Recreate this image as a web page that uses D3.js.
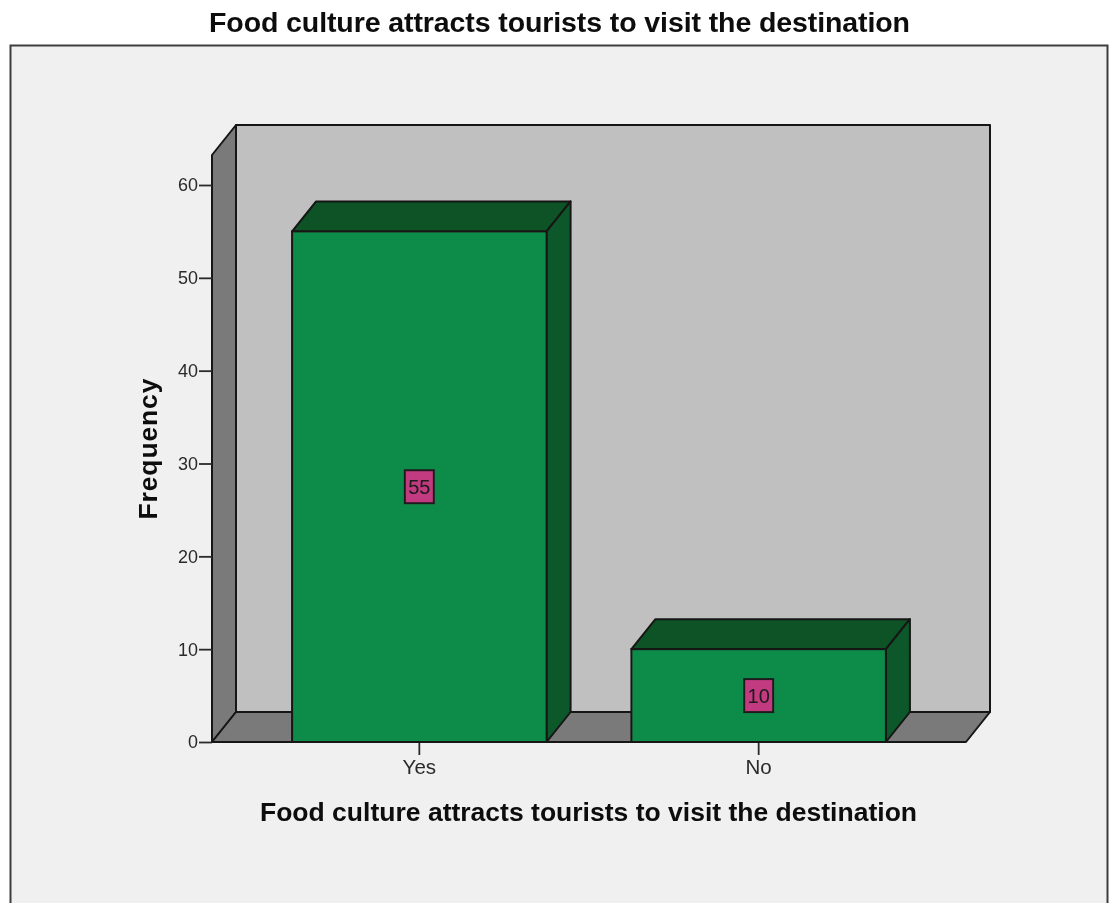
<!DOCTYPE html>
<html><head><meta charset="utf-8">
<script src="https://cdn.jsdelivr.net/npm/d3@7"></script>
<style>
html,body{margin:0;padding:0;background:#fff;overflow:hidden}
svg{display:block}
text{font-family:"Liberation Sans",Arial,sans-serif}
</style></head><body>
<script>
const categories = ["Yes","No"];
const frequencies = [55,10];
const yTicks = [0,10,20,30,40,50,60];
const chartTitle = "Food culture attracts tourists to visit the destination";
const xTitle = "Food culture attracts tourists to visit the destination";
const yTitle = "Frequency";

const W=1110,H=903;
const depth={x:24,y:-30};
const y=d3.scaleLinear().domain([0,60]).range([742,185]);
const x=d3.scaleBand().domain(categories).range([212,966]).paddingInner(.25).paddingOuter(.236);
const wallTop=155, ink="#161616";

const svg=d3.select("body").append("svg").attr("width",W).attr("height",H);
const defs=svg.append("defs");
defs.append("filter").attr("id","soft").attr("x","-2%").attr("y","-2%").attr("width","104%").attr("height","104%")
  .append("feGaussianBlur").attr("stdDeviation",.5);
svg.append("rect").attr("width",W).attr("height",H).attr("fill","#fff");
const g=svg.append("g").attr("filter","url(#soft)");

g.append("rect").attr("x",10.5).attr("y",45.5).attr("width",1097).attr("height",H)
  .attr("fill","#f0f0f0").attr("stroke","#3c3c3c").attr("stroke-width",2);

const L=x.range()[0],R=x.range()[1],B=y(0);
const poly=(pts,fill)=>g.append("polygon").attr("points",pts.map(p=>p.join(",")).join(" "))
  .attr("fill",fill).attr("stroke",ink).attr("stroke-width",2).attr("stroke-linejoin","round");
// back wall, side wall, floor
poly([[L+depth.x,wallTop+depth.y],[R+depth.x,wallTop+depth.y],[R+depth.x,B+depth.y],[L+depth.x,B+depth.y]],"#c0c0c0");
poly([[L,wallTop],[L+depth.x,wallTop+depth.y],[L+depth.x,B+depth.y],[L,B]],"#7a7a7a");
poly([[L,B],[L+depth.x,B+depth.y],[R+depth.x,B+depth.y],[R,B]],"#7a7a7a");

// axes
const yAxis=d3.axisLeft(y).tickValues(yTicks).tickSize(13).tickPadding(1).tickFormat(d3.format("d"));
const ya=g.append("g").attr("transform",`translate(${L},0)`).call(yAxis);
const xAxis=d3.axisBottom(x).tickSize(13).tickPadding(3);
const xa=g.append("g").attr("transform",`translate(0,${B})`).call(xAxis);
[ya,xa].forEach(a=>{
  a.select(".domain").remove();
  a.selectAll("line").attr("stroke","#2a2a2a").attr("stroke-width",1.8);
  a.selectAll("text").attr("font-size",18.5).attr("fill","#2a2a2a").style("font-family",'"Liberation Sans",Arial,sans-serif');
});
ya.selectAll("text").attr("textLength",20).attr("lengthAdjust","spacingAndGlyphs");
ya.selectAll(".tick").filter(d=>d===0).select("text").attr("textLength",10);
xa.selectAll("text").attr("dy","0.8em").attr("font-size",20.5);
g.append("line").attr("x1",L).attr("x2",R).attr("y1",B).attr("y2",B).attr("stroke",ink).attr("stroke-width",2);

// bars
categories.forEach((c,i)=>{
  const v=frequencies[i],x0=x(c),x1=x0+x.bandwidth(),t=y(v);
  poly([[x0,t],[x0+depth.x,t+depth.y],[x1+depth.x,t+depth.y],[x1,t]],"#085226");
  poly([[x1,t],[x1+depth.x,t+depth.y],[x1+depth.x,B+depth.y],[x1,B]],"#08582a");
  g.append("rect").attr("x",x0).attr("y",t).attr("width",x.bandwidth()).attr("height",B-t)
    .attr("fill","#108c4a").attr("stroke",ink).attr("stroke-width",2);
  const cx=x0+x.bandwidth()/2, cy=y(v/2);
  g.append("rect").attr("x",cx-14.5).attr("y",cy-16.5).attr("width",29).attr("height",33)
    .attr("fill","#c23a80").attr("stroke","#1f1f1f").attr("stroke-width",2);
  g.append("text").attr("x",cx).attr("y",cy+7).attr("text-anchor","middle")
    .attr("font-size",20).attr("fill","#1a1a1a").text(v);
});

// titles
g.append("text").attr("x",559.5).attr("y",32).attr("text-anchor","middle").attr("font-weight","bold")
  .attr("font-size",28.5).attr("fill","#0c0c0c").attr("textLength",701).attr("lengthAdjust","spacing").text(chartTitle);
g.append("text").attr("x",588.5).attr("y",821).attr("text-anchor","middle").attr("font-weight","bold")
  .attr("font-size",26.5).attr("fill","#0c0c0c").attr("textLength",657).attr("lengthAdjust","spacing").text(xTitle);
g.append("text").attr("transform","translate(157,449) rotate(-90)").attr("text-anchor","middle").attr("font-weight","bold")
  .attr("font-size",26.5).attr("fill","#0c0c0c").attr("textLength",141).attr("lengthAdjust","spacing").text(yTitle);
</script>
</body></html>
